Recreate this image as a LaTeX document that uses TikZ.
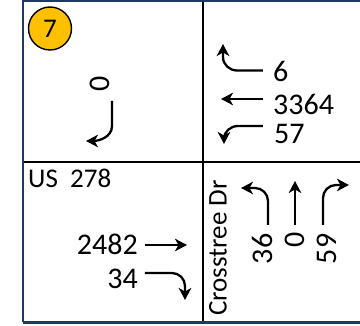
\documentclass[tikz,border=0pt]{standalone}
\usepackage{fontspec}
\setmainfont{Carlito}
\usetikzlibrary{arrows.meta}
\definecolor{framenavy}{HTML}{1F3864}
\definecolor{badge}{HTML}{FFC000}
\tikzset{
  num/.style={inner sep=0pt, font=\fontsize{30}{34}\selectfont},
  lbl/.style={inner sep=0pt, font=\fontsize{27}{31}\selectfont},
  arr/.style={line width=2.3pt, -{Stealth[length=12pt,width=12.5pt,inset=3.5pt]}},
  grid/.style={line width=1.2pt, black},
  frame/.style={line width=2.2pt, framenavy}
}
\begin{document}
\begin{tikzpicture}[x=1pt,y=-1pt]
\useasboundingbox (0,0) rectangle (360,326);
% grid
\draw[grid] (203,1) -- (203,322);
\draw[grid] (23,162) -- (360,162);
% frame
\draw[frame] (23,322.5) -- (23,1) -- (362,1);
\draw[frame] (23,322.5) -- (362,322.5);
% badge
\node[circle, draw=black, line width=1.4pt, fill=badge, minimum size=43pt, inner sep=0pt,
      font=\fontsize{27}{31}\selectfont] (badge) at (50,28.5) {7};
% top-left: southbound
\node[num, rotate=90] (sb) at (100,84) {0};
\coordinate (sbA) at (112,101);
\coordinate (sbB) at (112,126);
\coordinate (sbC) at (86,141);
\draw[arr] (sbA) -- (sbB) to[out=-90,in=0] (sbC);
% top-right: westbound
\node[num, anchor=west] (wl) at (273,71) {6};
\node[num, anchor=west] (wt) at (273,104) {3364};
\node[num, anchor=west] (wr) at (274,133.5) {57};
\coordinate (wlA) at (263,70.5);
\coordinate (wlB) at (237,70.5);
\coordinate (wlC) at (223,57);
\coordinate (wlD) at (223,44);
\draw[arr] (wlA) -- (wlB) to[out=180,in=-90] (wlC) -- (wlD);
\coordinate (wtA) at (263,99);
\coordinate (wtB) at (221,99);
\draw[arr] (wtA) -- (wtB);
\coordinate (wrA) at (263,126);
\coordinate (wrB) at (238,126);
\coordinate (wrC) at (224,139);
\coordinate (wrD) at (224,144);
\draw[arr] (wrA) -- (wrB) to[out=180,in=90] (wrC) -- (wrD);
% bottom-left: eastbound
\node[lbl, anchor=west] (road1) at (28,178.5) {US\ \ 278};
\node[num, anchor=east] (et) at (138,244) {2482};
\node[num, anchor=east] (er) at (138,279) {34};
\coordinate (etA) at (145,245);
\coordinate (etB) at (187,245);
\draw[arr] (etA) -- (etB);
\coordinate (erA) at (145,273);
\coordinate (erB) at (172,273);
\coordinate (erC) at (185,286);
\coordinate (erD) at (185,300);
\draw[arr] (erA) -- (erB) to[out=0,in=90] (erC) -- (erD);
% bottom-right: northbound
\node[lbl, rotate=90] (road2) at (218,248) {Crosstree Dr};
\node[num, rotate=90] (nl) at (262,249) {36};
\node[num, rotate=90] (nt) at (295,240) {0};
\node[num, rotate=90] (nr) at (327,249) {59};
\coordinate (nlA) at (268,225);
\coordinate (nlB) at (268,201);
\coordinate (nlC) at (255,188);
\coordinate (nlD) at (241,188);
\draw[arr] (nlA) -- (nlB) to[out=90,in=0] (nlC) -- (nlD);
\coordinate (ntA) at (295,225);
\coordinate (ntB) at (295,181);
\draw[arr] (ntA) -- (ntB);
\coordinate (nrA) at (323,225);
\coordinate (nrB) at (323,198);
\coordinate (nrC) at (336,185);
\coordinate (nrD) at (349,185);
\draw[arr] (nrA) -- (nrB) to[out=90,in=180] (nrC) -- (nrD);
\end{tikzpicture}
\end{document}
